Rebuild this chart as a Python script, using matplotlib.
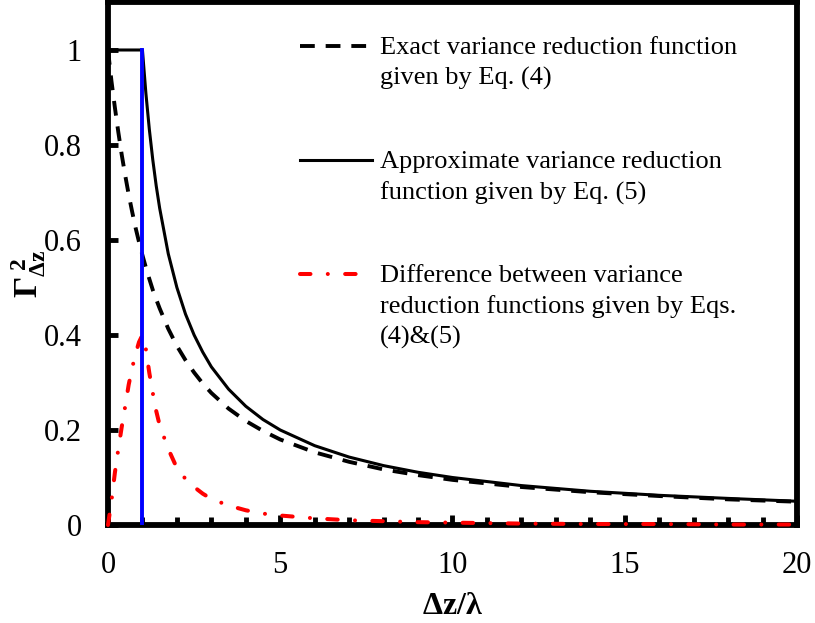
import matplotlib
matplotlib.use("Agg")
import matplotlib.pyplot as plt
from matplotlib.ticker import MultipleLocator

plt.rcParams["font.family"] = ["Liberation Serif", "DejaVu Serif"]
plt.rcParams["mathtext.fontset"] = "custom"
plt.rcParams["mathtext.rm"] = "Liberation Serif"
plt.rcParams["mathtext.bf"] = "Liberation Serif:bold"
plt.rcParams["mathtext.it"] = "Liberation Serif:italic"

# values
dz = [0, 0.1, 0.2, 0.3, 0.4, 0.5, 0.6, 0.7, 0.8, 0.9, 1.0, 1.1, 1.2, 1.3, 1.4,
      1.5, 1.75, 2, 2.25, 2.5, 2.75, 3, 3.5, 4, 4.5, 5, 6, 7, 8, 9, 10, 12,
      14, 16, 18, 20]
exact = [1.0, 0.935, 0.879, 0.827, 0.779, 0.736, 0.696, 0.660, 0.626, 0.596,
         0.568, 0.542, 0.518, 0.495, 0.475, 0.456, 0.413, 0.377, 0.347, 0.321,
         0.298, 0.278, 0.245, 0.219, 0.198, 0.180, 0.153, 0.133, 0.117, 0.105,
         0.095, 0.080, 0.069, 0.061, 0.054, 0.049]
approx = [1.0, 1.0, 1.0, 1.0, 1.0, 1.0, 1.0, 1.0, 1.0, 1.0,
          1.0, 0.909, 0.833, 0.769, 0.714, 0.667, 0.571, 0.500, 0.444, 0.400,
          0.364, 0.333, 0.286, 0.250, 0.222, 0.200, 0.167, 0.143, 0.125, 0.111,
          0.100, 0.083, 0.071, 0.0625, 0.056, 0.050]
diff = [0.0, 0.05, 0.11, 0.16, 0.207, 0.25, 0.295, 0.33, 0.36, 0.385,
        0.40, 0.37, 0.32, 0.278, 0.24, 0.21, 0.16, 0.12, 0.097, 0.08,
        0.066, 0.055, 0.041, 0.031, 0.024, 0.02, 0.014, 0.01, 0.008, 0.006,
        0.005, 0.003, 0.002, 0.002, 0.001, 0.001]
cut_x = [1, 1]
cut_y = [0, 1]

labels = ["Exact variance reduction function\ngiven by Eq. (4)",
          "Approximate variance reduction\nfunction given by Eq. (5)",
          "Difference between variance\nreduction functions given by Eqs.\n(4)&(5)"]

dash_st = dict(color="black", lw=2.8, ls=(0, (3.8, 2.8)))
solid_st = dict(color="black", lw=2.2)
red_st = dict(color="red", lw=2.9, ls=(0, (2.6, 4.3, 0.01, 4.3)),
              dash_capstyle="round")

fig = plt.figure(figsize=(8.15, 6.23), dpi=100)
ax = fig.add_axes([0.1325, 0.1573, 0.8454, 0.8387])

ax.plot(dz, exact, zorder=3, **dash_st)
ax.plot(dz, approx, zorder=3, **solid_st)
ax.plot(dz, diff, zorder=4, clip_on=False, **red_st)
ax.plot(cut_x, cut_y, color="blue", lw=2.8, zorder=5)

ax.set_xlim(0, 20)
ax.set_ylim(0, 1.1)
ax.set_yticks([0, 0.2, 0.4, 0.6, 0.8, 1])
ax.set_yticklabels(["0", "0.2", "0.4", "0.6", "0.8", "1"])
ax.xaxis.set_major_locator(MultipleLocator(5))
ax.xaxis.set_minor_locator(MultipleLocator(1))
ax.tick_params(axis="both", which="major", direction="in", length=7, width=3.5,
               labelsize=22, pad=19)
ax.tick_params(axis="x", which="minor", direction="in", length=5.5, width=3.5)
ax.tick_params(top=False, right=False)
for s in ax.spines.values():
    s.set_linewidth(4.2)

ax.set_xlabel(r"$\mathbf{\Delta z/\lambda}$", fontsize=23, labelpad=8)
ax.set_ylabel(r"$\mathbf{\Gamma_{\Delta z}^{\ 2}}$", fontsize=24, labelpad=-3,
              y=0.48)

# legend drawn by hand so each handle lines up with its first text row
rows = [0.9176, 0.699, 0.481]
for lab, st, yy in zip(labels, [dash_st, solid_st, red_st], rows):
    ax.plot([0.279, 0.383], [yy, yy], transform=ax.transAxes, **st)
    ax.text(0.395, yy + 0.016, lab, transform=ax.transAxes, fontsize=19,
            va="top", ha="left", linespacing=1.45)

fig.savefig("out.png", dpi=100)
